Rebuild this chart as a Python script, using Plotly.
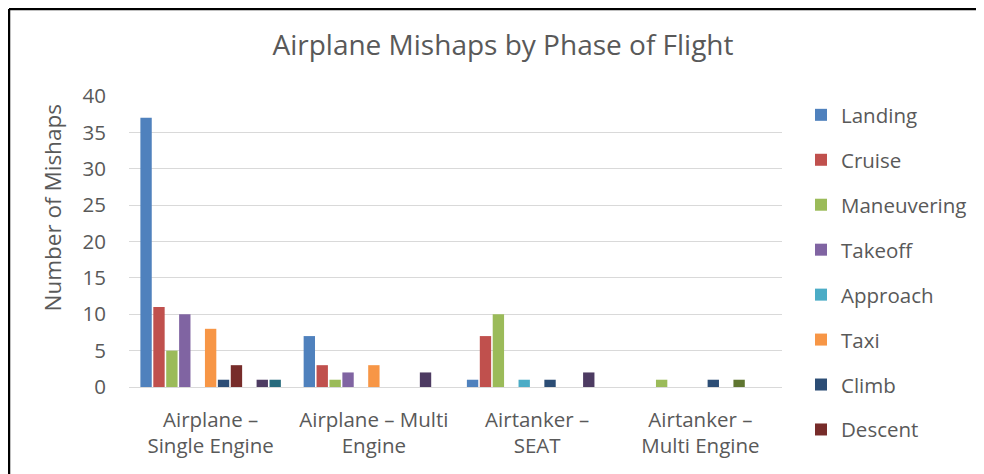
import plotly.graph_objects as go

# Categories (aircraft type)
categories = [
    "Airplane –<br>Single Engine",
    "Airplane – Multi<br>Engine",
    "Airtanker –<br>SEAT",
    "Airtanker –<br>Multi Engine",
]

# Mishaps per phase of flight, one list per series
landing = [37, 7, 1, 0]
cruise = [11, 3, 7, 0]
maneuvering = [5, 1, 10, 1]
takeoff = [10, 2, 0, 0]
approach = [0, 0, 1, 0]
taxi = [8, 3, 0, 0]
climb = [1, 0, 1, 1]
descent = [3, 0, 0, 0]
# series beyond the (cut off) legend
series9 = [0, 0, 0, 1]
series10 = [1, 2, 2, 0]
series11 = [1, 0, 0, 0]

series = [
    ("Landing", landing, "#4F81BD", True),
    ("Cruise", cruise, "#C0504D", True),
    ("Maneuvering", maneuvering, "#9BBB59", True),
    ("Takeoff", takeoff, "#8064A2", True),
    ("Approach", approach, "#4BACC6", True),
    ("Taxi", taxi, "#F79646", True),
    ("Climb", climb, "#2C4D75", True),
    ("Descent", descent, "#772C2A", True),
    ("Series 9", series9, "#5F7530", False),
    ("Series 10", series10, "#4D3B62", False),
    ("Series 11", series11, "#276A7C", False),
]

FONT = "Open Sans"
GREY = "#595959"

# the page puts the figure 8px in from the top-left corner
L, T, PW, PH = 121, 88, 653, 291

fig = go.Figure()
for i, (name, vals, color, show) in enumerate(series):
    fig.add_trace(go.Bar(
        x=categories,
        y=vals,
        name=name,
        marker=dict(color=color, line=dict(width=0)),
        showlegend=show,
        legendgroup=f"g{i}",
    ))

fig.update_layout(
    width=984,
    height=474,
    barmode="group",
    bargap=0.13,
    bargroupgap=0.12,
    paper_bgcolor="white",
    plot_bgcolor="white",
    font=dict(family=FONT, color=GREY, size=18),
    margin=dict(l=L, r=984 - L - PW, t=T, b=474 - T - PH, autoexpand=False),
    title=dict(
        text="Airplane Mishaps by Phase of Flight",
        x=495 / 984, xanchor="center",
        y=1 - 37 / 474, yanchor="middle",
        font=dict(family=FONT, size=28, color=GREY),
    ),
    xaxis=dict(
        automargin=False,
        showgrid=False,
        showline=True,
        linecolor="#D9D9D9",
        linewidth=1,
        ticks="",
        tickfont=dict(size=20.5, color=GREY),
        ticklabelstandoff=14,
    ),
    yaxis=dict(
        automargin=False,
        range=[0, 40],
        dtick=5,
        showgrid=True,
        gridcolor="#D9D9D9",
        gridwidth=1,
        zeroline=False,
        showline=False,
        ticks="",
        tickfont=dict(size=20.5, color=GREY),
        ticklabelstandoff=22,
    ),
    legend=dict(
        xref="container", yref="container",
        x=793 / 984, xanchor="left",
        y=1 - 87 / 474, yanchor="top",
        maxheight=1,
        font=dict(size=20.5, color=GREY),
        tracegroupgap=15.3,
        traceorder="grouped",
        bgcolor="rgba(0,0,0,0)",
    ),
)

# Y axis title
fig.add_annotation(
    text="Number of Mishaps",
    xref="paper", yref="paper",
    x=(44 - L) / PW, y=(T + PH - 200.5) / PH,
    xanchor="center", yanchor="middle",
    textangle=-90, showarrow=False,
    font=dict(family=FONT, size=22.5, color=GREY),
)

# chart frame (left and top edges visible)
x_left = (1 - L) / PW
y_top = (T + PH - 1) / PH
fig.add_shape(type="line", xref="paper", yref="paper",
              x0=x_left, x1=x_left, y0=y_top, y1=-0.5,
              line=dict(color="black", width=2.5))
fig.add_shape(type="line", xref="paper", yref="paper",
              x0=x_left, x1=1.5, y0=y_top, y1=y_top,
              line=dict(color="black", width=2.5))

fig.write_html("out.html")
